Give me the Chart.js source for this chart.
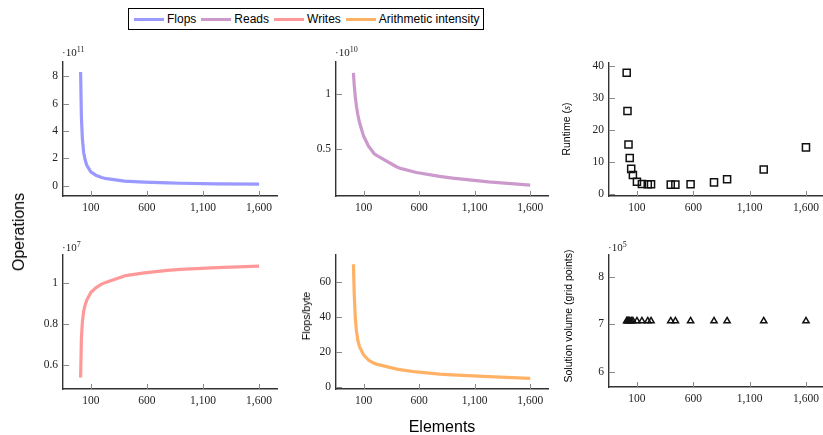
<!DOCTYPE html>
<html>
<head>
<meta charset="utf-8">
<script src="https://cdn.jsdelivr.net/npm/chart.js@4/dist/chart.umd.min.js"></script>
<style>
  html, body { margin:0; padding:0; background:#fff; width:823px; height:435px; overflow:hidden; }
  body { position:relative; }
  canvas { position:absolute; }
  .txt { position:absolute; white-space:nowrap; color:#000; }
  .mult { font-family:"Liberation Serif", "Times New Roman", serif; font-size:11px; color:#222; line-height:11px; }
  .mult sup { font-size:8px; vertical-align:4px; line-height:0; }
  .rot { transform: translate(-50%,-50%) rotate(-90deg); font-family:"Liberation Sans", Arial, sans-serif; font-size:10.5px; }
  #legend { position:absolute; left:128px; top:8px; width:354px; height:20px; border:1px solid #000;
            display:flex; align-items:center; font-family:"Liberation Sans", Arial, sans-serif; font-size:12px; }
  #legend .sw { display:inline-block; width:30px; height:3px; margin:0 3px 0 5px; }
</style>
</head>
<body>
<div id="legend"></div>

<script>
// ---- data ----
const elements  = [9, 16, 25, 36, 49, 64, 100, 144, 196, 225, 400, 441, 576, 784, 900, 1225, 1600];
const flops     = [8.3, 5.0, 3.4, 2.45, 1.9, 1.5, 1.02, 0.78, 0.61, 0.55, 0.35, 0.33, 0.27, 0.21, 0.19, 0.15, 0.12];      // x 1e11
const reads     = [1.19, 1.08, 0.98, 0.89, 0.81, 0.74, 0.62, 0.53, 0.46, 0.44, 0.34, 0.325, 0.29, 0.255, 0.24, 0.205, 0.177]; // x 1e10
const writes    = [0.537, 0.73, 0.81, 0.86, 0.89, 0.915, 0.952, 0.975, 0.993, 1.0, 1.033, 1.037, 1.048, 1.06, 1.065, 1.073, 1.081]; // x 1e7
const intensity = [70, 53, 40, 32, 26.5, 23, 18.5, 15.5, 13.6, 13, 10.3, 9.9, 8.7, 7.5, 7.0, 6.0, 5.0];               // flops/byte
const runtime   = [37.8, 25.9, 15.5, 11.3, 7.9, 6.0, 3.9, 3.2, 3.1, 3.1, 3.0, 3.0, 3.1, 3.7, 4.7, 7.7, 14.6];       // s
const volume    = [7.07, 7.07, 7.07, 7.07, 7.07, 7.07, 7.07, 7.07, 7.07, 7.07, 7.07, 7.07, 7.07, 7.07, 7.07, 7.07, 7.07]; // x 1e5

const xTicks       = [100, 600, 1100, 1600];
const flopsTicks   = [0, 2, 4, 6, 8];
const readsTicks   = [0.5, 1];
const runtimeTicks = [0, 10, 20, 30, 40];
const writesTicks  = [0.6, 0.8, 1];
const aiTicks      = [0, 20, 40, 60];
const volumeTicks  = [6, 7, 8];

const legendItems  = ['Flops', 'Reads', 'Writes', 'Arithmetic intensity'];
const colors       = ['#9999ff', '#cc99cc', '#ff9999', '#ffb266'];

// ---- legend ----
const lg = document.getElementById('legend');
legendItems.forEach((name, i) => {
  const sw = document.createElement('span'); sw.className = 'sw'; sw.style.background = colors[i];
  const t = document.createElement('span'); t.textContent = name;
  lg.appendChild(sw); lg.appendChild(t);
});

// ---- helpers ----
const innerTicks = {
  id: 'innerTicks',
  beforeDatasetsDraw(chart) {
    const ctx = chart.ctx, a = chart.chartArea;
    const xs = chart.scales.x, ys = chart.scales.y;
    ctx.save();
    ctx.strokeStyle = '#8a8a8a'; ctx.lineWidth = 1;
    xs.ticks.forEach(t => {
      const p = Math.round(xs.getPixelForValue(t.value)) + 0.5;
      ctx.beginPath(); ctx.moveTo(p, a.bottom); ctx.lineTo(p, a.bottom - 5); ctx.stroke();
    });
    ys.ticks.forEach(t => {
      const p = Math.round(ys.getPixelForValue(t.value)) + 0.5;
      ctx.beginPath(); ctx.moveTo(a.left, p); ctx.lineTo(a.left + 6, p); ctx.stroke();
    });
    ctx.restore();
  }
};

const YW = 45, XH = 24, PT = 14, PR = 22;
const tickFont = { family: 'Liberation Serif', size: 11.5 };

function panel(L, T, R, B, dataset, ymin, ymax, yTickVals, yFmt) {
  const c = document.createElement('canvas');
  const w = R - L + YW + PR, h = B - T + PT + XH;
  c.width = w; c.height = h;
  c.style.left = (L - YW) + 'px'; c.style.top = (T - PT) + 'px';
  c.style.width = w + 'px'; c.style.height = h + 'px';
  document.body.appendChild(c);
  new Chart(c, {
    type: 'scatter',
    data: { datasets: [dataset] },
    options: {
      responsive: false, animation: false, devicePixelRatio: 1,
      layout: { padding: { top: PT, right: PR, left: 0, bottom: 0 } },
      plugins: { legend: { display: false }, tooltip: { enabled: false } },
      scales: {
        x: {
          type: 'linear', min: -148, max: 1760,
          afterBuildTicks: s => { s.ticks = xTicks.map(v => ({ value: v })); },
          afterFit: s => { s.height = XH; },
          grid: { display: false, drawTicks: false },
          border: { display: true, color: '#333', width: 1.4 },
          ticks: { font: tickFont, color: '#222', padding: 5, maxRotation: 0, autoSkip: false,
                   callback: v => v.toLocaleString('en-US') }
        },
        y: {
          type: 'linear', min: ymin, max: ymax,
          afterBuildTicks: s => { s.ticks = yTickVals.map(v => ({ value: v })); },
          afterFit: s => { s.width = YW; },
          grid: { display: false, drawTicks: false },
          border: { display: true, color: '#333', width: 1.4 },
          ticks: { font: tickFont, color: '#222', padding: 5, autoSkip: false,
                   callback: yFmt || (v => String(v)) }
        }
      }
    },
    plugins: [innerTicks]
  });
}

function lineSet(ys, color) {
  return { data: elements.map((x, i) => ({ x: x, y: ys[i] })), showLine: true, borderColor: color,
           borderWidth: 3.2, pointRadius: 0, tension: 0, fill: false, borderJoinStyle: 'round', borderCapStyle: 'butt' };
}
function markSet(ys, style, r) {
  return { data: elements.map((x, i) => ({ x: x, y: ys[i] })), showLine: false, pointStyle: style,
           pointRadius: r, borderColor: '#111', borderWidth: 1.5, backgroundColor: 'rgba(255,255,255,0)' };
}

panel(63, 62, 277, 196, lineSet(flops, colors[0]), -0.74, 9.03, flopsTicks);
panel(336, 62, 548, 196, lineSet(reads, colors[1]), 0.078, 1.289, readsTicks);
panel(609, 63, 824, 196, markSet(runtime, 'rect', 5), -0.53, 40.84, runtimeTicks);
panel(63, 255, 277, 389, lineSet(writes, colors[2]), 0.481, 1.135, writesTicks);
panel(336, 255, 548, 389, lineSet(intensity, colors[3]), -1.0, 75.3, aiTicks);
panel(609, 255, 824, 387, markSet(volume, 'triangle', 3.6), 5.68, 8.46, volumeTicks);

// ---- texts ----
function addText(html, cls, style) {
  const d = document.createElement('div'); d.className = 'txt ' + cls; d.innerHTML = html;
  Object.assign(d.style, style); document.body.appendChild(d); return d;
}
addText('&middot;10<sup>11</sup>', 'mult', { left: '62px', top: '47px' });
addText('&middot;10<sup>10</sup>', 'mult', { left: '335px', top: '47px' });
addText('&middot;10<sup>7</sup>', 'mult', { left: '62px', top: '242px' });
addText('&middot;10<sup>5</sup>', 'mult', { left: '608px', top: '242px' });

addText('Runtime (<i style="font-family:\'Liberation Serif\',serif">s</i>)', 'rot', { left: '566px', top: '129px' });
addText('Flops/byte', 'rot', { left: '306px', top: '316px' });
addText('Solution volume (grid points)', 'rot', { left: '568px', top: '316px' });
addText('Operations', 'rot', { left: '19px', top: '232px', fontSize: '16px' });
addText('Elements', '', { left: '442px', top: '427px', transform: 'translate(-50%,-50%)',
        fontFamily: "'Liberation Sans', Arial, sans-serif", fontSize: '16px' });
</script>
</body>
</html>
